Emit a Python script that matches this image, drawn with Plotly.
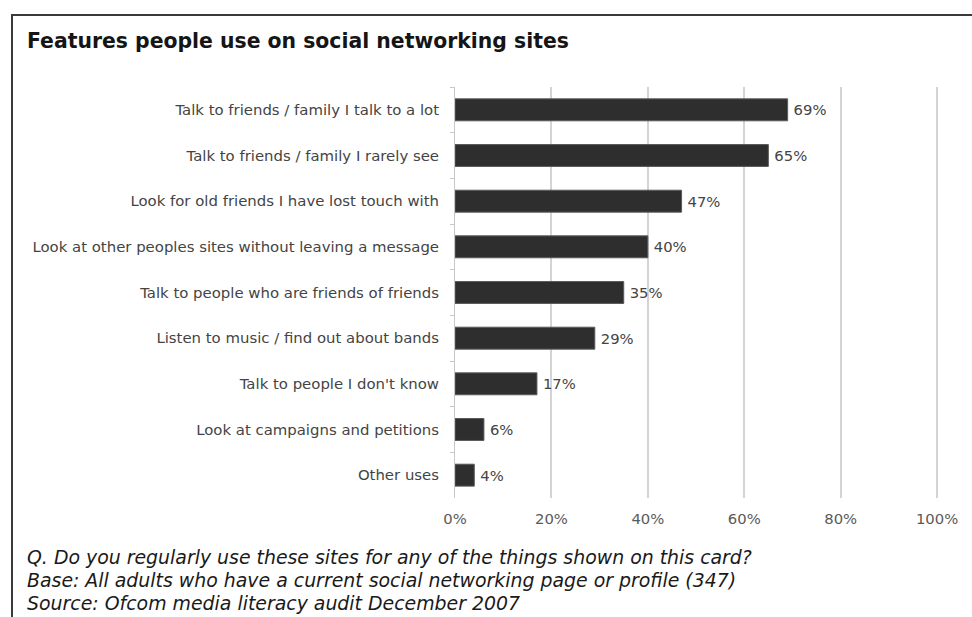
import plotly.graph_objects as go

# Survey results: share of adults using each feature (%)
features = [
    "Talk to friends / family I talk to a lot",
    "Talk to friends / family I rarely see",
    "Look for old friends I have lost touch with",
    "Look at other peoples sites without leaving a message",
    "Talk to people who are friends of friends",
    "Listen to music / find out about bands",
    "Talk to people I don't know",
    "Look at campaigns and petitions",
    "Other uses",
]
shares = [69, 65, 47, 40, 35, 29, 17, 6, 4]
tick_vals = [0, 20, 40, 60, 80, 100]
tick_text = ["0%", "20%", "40%", "60%", "80%", "100%"]

title_text = "Features people use on social networking sites"
footnotes = [
    "Q. Do you regularly use these sites for any of the things shown on this card?",
    "Base: All adults who have a current social networking page or profile (347)",
    "Source: Ofcom media literacy audit December 2007",
]

W, H = 972, 617
L, R, T, B = 455, 33, 87, 119
plot_w = W - L - R
plot_h = H - T - B


def px_x(x):
    return (x - L) / plot_w


def px_y(y):
    return 1 - (y - T) / plot_h


FONT = "DejaVu Sans, Verdana, sans-serif"

fig = go.Figure(
    go.Bar(
        x=shares,
        y=features,
        orientation="h",
        width=0.48,
        marker=dict(color="#2e2e2e", line=dict(color="#5a5a5a", width=1)),
        text=[f"\u2009{v}%" for v in shares],
        textposition="outside",
        textfont=dict(family=FONT, size=14.8, color="#444444"),
        cliponaxis=False,
    )
)

fig.update_layout(
    width=W,
    height=H,
    margin=dict(l=L, r=R, t=T, b=B, pad=0),
    paper_bgcolor="white",
    plot_bgcolor="white",
    showlegend=False,
    font=dict(family=FONT),
    xaxis=dict(
        range=[0, 100.4],
        tickvals=tick_vals,
        ticktext=tick_text,
        showgrid=True,
        gridcolor="#d4d4d4",
        gridwidth=1.6,
        zeroline=False,
        showline=False,
        ticks="",
        ticklabelstandoff=10,
        tickfont=dict(family=FONT, size=14.8, color="#5a5a5a"),
    ),
    yaxis=dict(
        autorange="reversed",
        showgrid=False,
        zeroline=False,
        showline=True,
        linecolor="#c8c8c8",
        linewidth=1,
        ticks="outside",
        tickson="boundaries",
        ticklen=4,
        tickcolor="#c8c8c8",
        ticklabelstandoff=12,
        tickfont=dict(family=FONT, size=14.9, color="#444444"),
    ),
    bargap=0.52,
)

# Outer frame of the card
fig.add_shape(
    type="rect",
    xref="paper", yref="paper",
    x0=px_x(12), x1=px_x(985),
    y0=px_y(630), y1=px_y(15),
    line=dict(color="#3a3a3a", width=2),
    fillcolor="rgba(0,0,0,0)",
    layer="above",
)

fig.add_annotation(
    text=f"<b>{title_text}</b>",
    xref="paper", yref="paper",
    x=px_x(25), y=px_y(41),
    xanchor="left", yanchor="middle",
    showarrow=False,
    font=dict(family=FONT, size=20.4, color="#151515"),
)

for i, line in enumerate(footnotes):
    fig.add_annotation(
        text=f"<i>{line}</i>",
        xref="paper", yref="paper",
        x=px_x(25), y=px_y(557 + 23 * i),
        xanchor="left", yanchor="middle",
        showarrow=False,
        font=dict(family=FONT, size=18.9, color="#1a1a1a"),
    )

fig.write_html("out.html")
